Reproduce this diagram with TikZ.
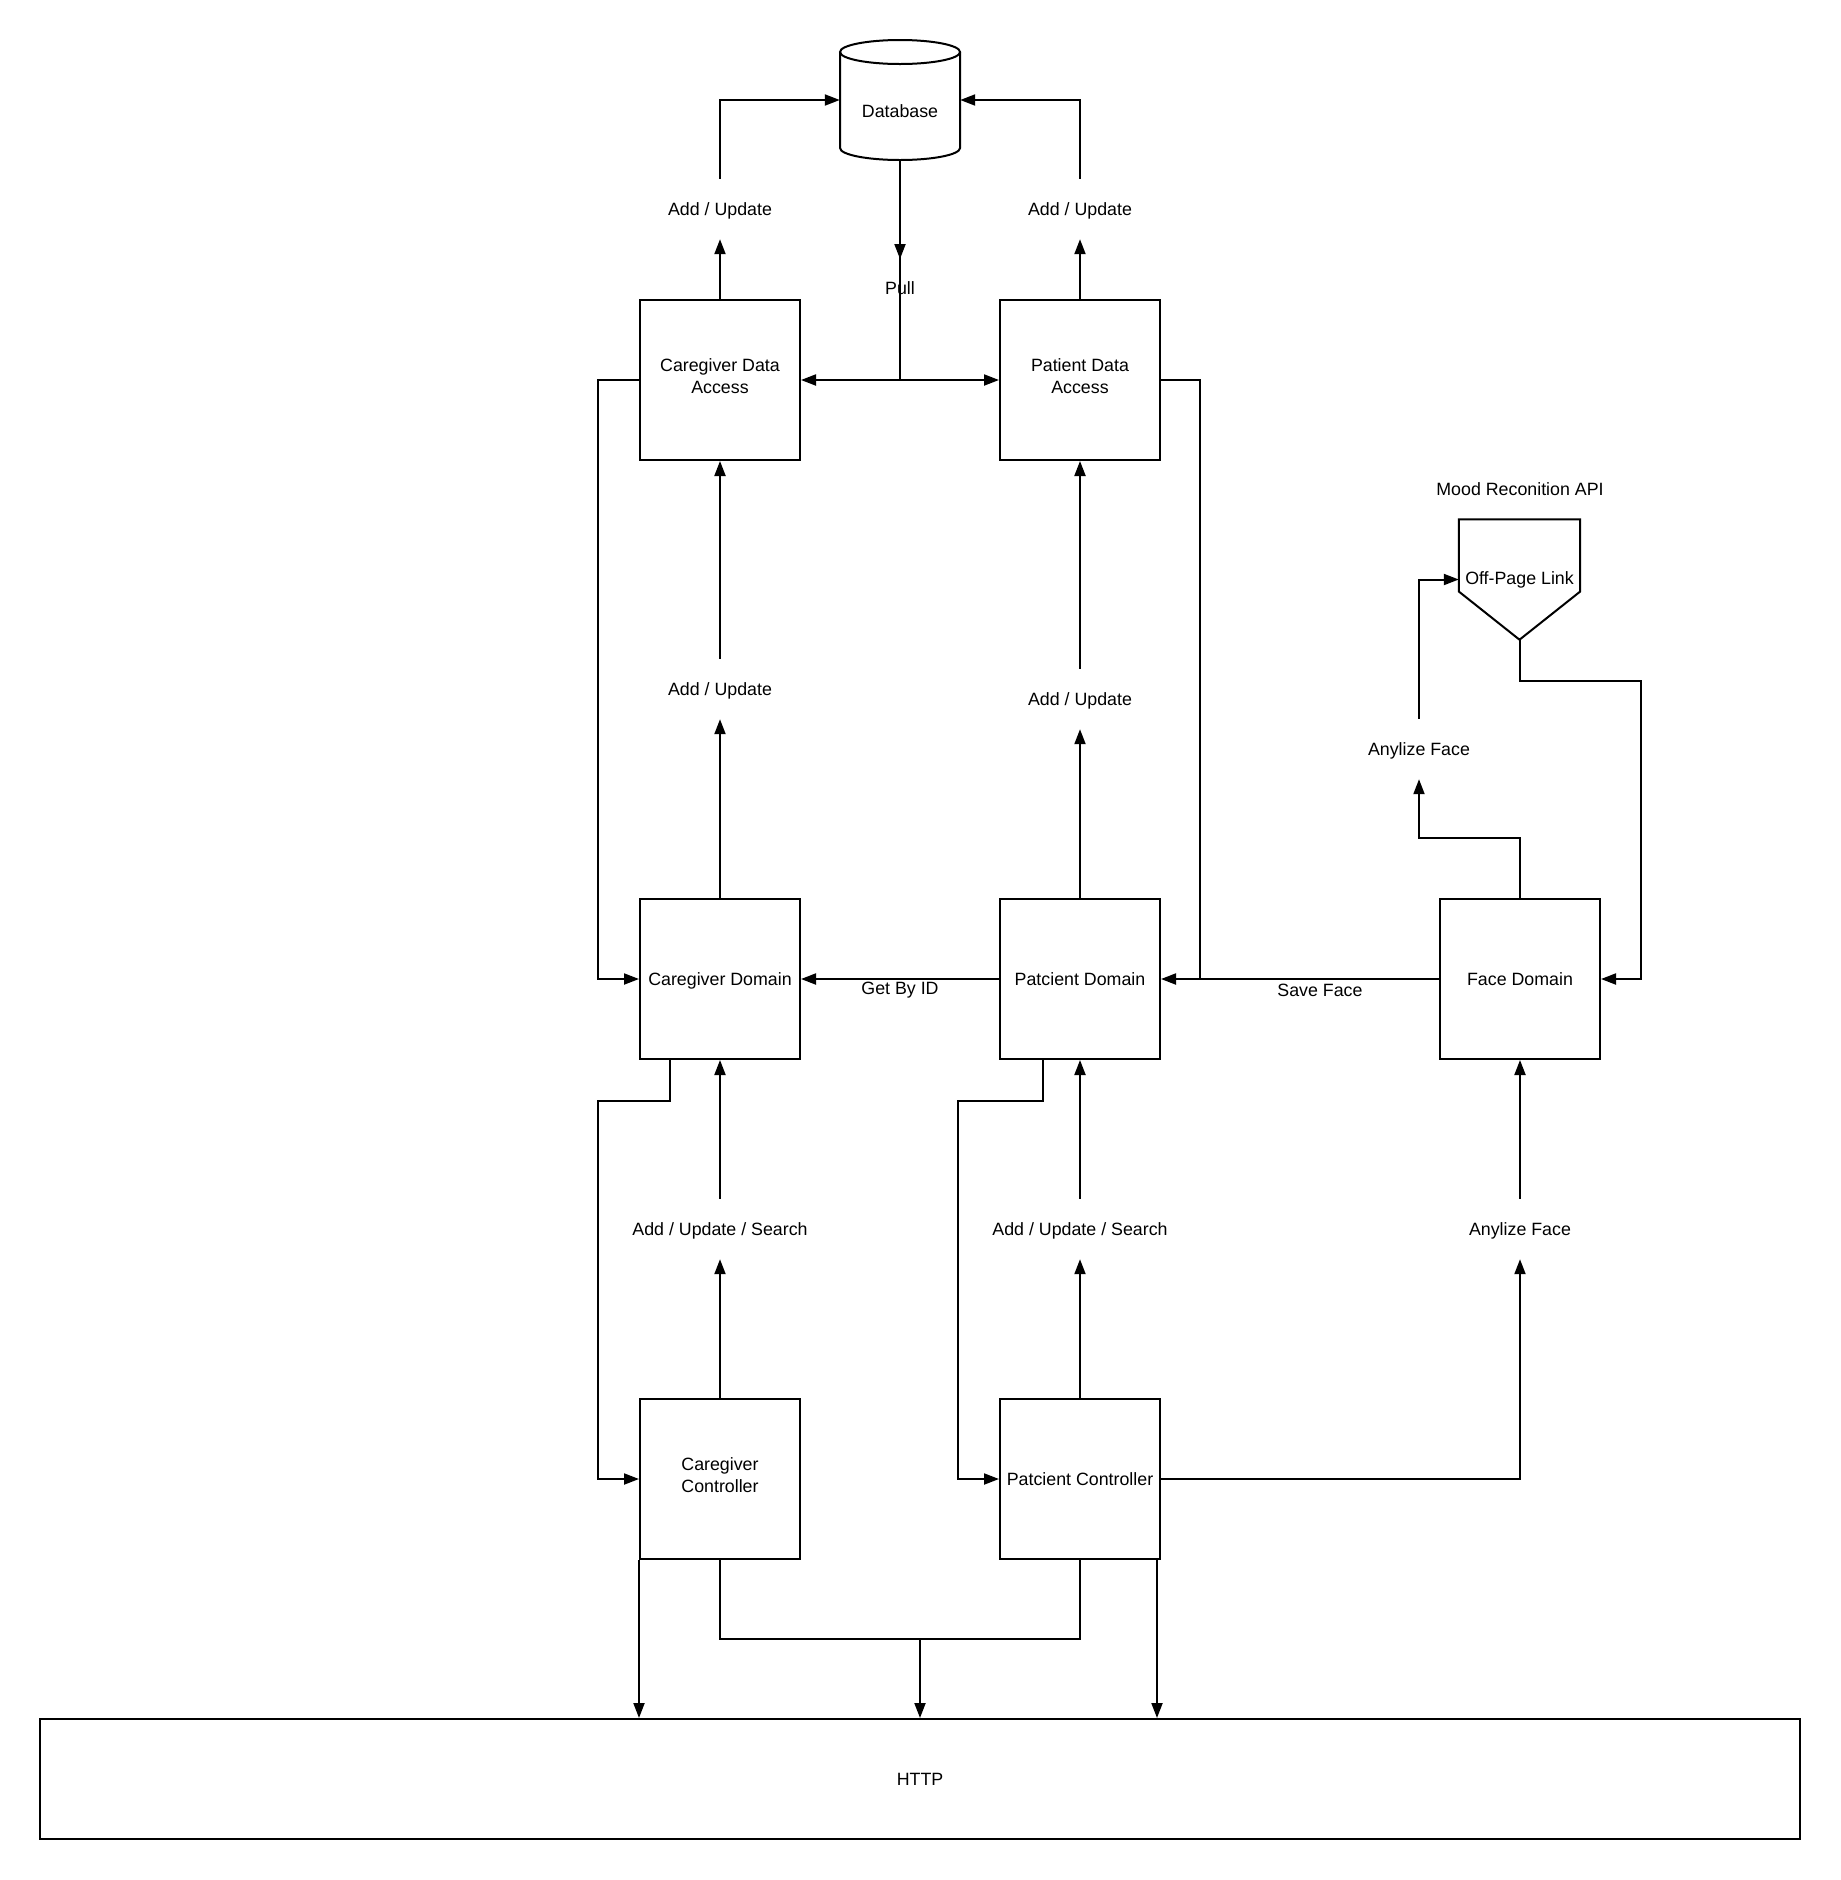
\documentclass[tikz,border=0pt]{standalone}
\usepackage{fontspec}
\setmainfont{Liberation Sans}
\usetikzlibrary{arrows.meta,calc}
\begin{document}
\begin{tikzpicture}[x=1pt,y=-1pt,
  every node/.style={font=\fontsize{17.8}{21.5}\selectfont},
  line/.style={line width=2pt},
  arr/.style={line width=2pt,-{Triangle[length=15pt,width=11pt]}},
  box/.style={draw,line width=2pt,minimum width=160pt,minimum height=160pt,inner sep=0pt,align=center,text height=17pt,text depth=4pt},
  lbl/.style={inner sep=0pt,minimum height=60pt,align=center,text height=17pt,text depth=4pt},
  txt/.style={inner sep=0pt,align=center}]
\useasboundingbox (0,0) rectangle (1840,1880);

% database
\node[inner sep=0pt,minimum width=120pt,minimum height=120pt] (db) at (900,100) {};
\node[txt] (dbt) at (900,111) {Database};
\draw[line] (840,52) -- (840,148) arc[start angle=180,end angle=360,x radius=60,y radius=-12] -- (960,52);
\draw[line] (900,52) ellipse[x radius=60,y radius=12];

% boxes
\node[box] (cda) at (720,380) {};
\node[txt,yshift=4pt] (cdat) at (cda) {Caregiver Data\\Access};
\node[box] (pda) at (1080,380) {};
\node[txt,yshift=4pt] (pdat) at (pda) {Patient Data\\Access};
\node[box] (cd) at (720,979) {Caregiver Domain};
\node[box] (pd) at (1080,979) {Patcient Domain};
\node[box] (fd) at (1520,979) {Face Domain};
\node[box] (cc) at (720,1479) {};
\node[txt,yshift=4pt] (cct) at (cc) {Caregiver\\Controller};
\node[box] (pc) at (1080,1479) {Patcient Controller};
\node[draw,line width=2pt,minimum width=1760pt,minimum height=120pt,inner sep=0pt] (http) at (920,1779) {HTTP};

% off-page link
\node[inner sep=0pt,minimum width=121pt,minimum height=120pt] (opl) at (1519.5,579.5) {Off-Page Link};
\draw[line] (opl.north west) -- (opl.north east) -- ($(opl.east)+(0,12)$) -- (opl.south) -- ($(opl.west)+(0,12)$) -- cycle;
\node[txt] (api) at (1520,489) {Mood Reconition API};

% labels
\node[lbl] (l1) at (720,209) {Add / Update};
\node[lbl] (l2) at (1080,209) {Add / Update};
\node[lbl] (l3) at (720,689) {Add / Update};
\node[lbl] (l4) at (1080,699) {Add / Update};
\node[lbl] (l5) at (720,1229) {Add / Update / Search};
\node[lbl] (l6) at (1080,1229) {Add / Update / Search};
\node[lbl] (af2) at (1520,1229) {Anylize Face};
\node[lbl] (af1) at (1419,749) {Anylize Face};
\node[txt] (pull) at (900,288) {Pull};
\node[txt] (gbi) at (900,990) {Get By ID};
\node[txt] (sf) at (1320,990) {Save Face};

% top connectors
\draw[arr] (cda.north) -- (l1.south);
\draw[arr] (l1.north) |- (db.west);
\draw[arr] (pda.north) -- (l2.south);
\draw[arr] (l2.north) |- (db.east);
\coordinate (pj) at (900,380);
\draw[line] (db.south) -- (pj);
\draw[arr] (db.south) -- (900,259);
\draw[arr] (pj) -- (cda.east);
\draw[arr] (pj) -- (pda.west);

% data access loops
\draw[arr] (cda.west) -- ++(-41,0) |- (cd.west);
\coordinate (sj) at (1200,979);
\draw[line] (pda.east) -| (sj);

% domain to data access
\draw[arr] (cd.north) -- (l3.south);
\draw[arr] (l3.north) -- (cda.south);
\draw[arr] (pd.north) -- (l4.south);
\draw[arr] (l4.north) -- (pda.south);

% domain row
\draw[arr] (pd.west) -- (cd.east);
\draw[arr] (fd.west) -- (pd.east);

% face domain / API
\draw[arr] (fd.north) -- ++(0,-60) -| (af1.south);
\draw[arr] (af1.north) |- (opl.west);
\coordinate (oc) at (1641,681);
\draw[arr] (opl.south) |- (oc) |- (fd.east);

% controllers to domains
\draw[arr] (cc.north) -- (l5.south);
\draw[arr] (l5.north) -- (cd.south);
\draw[arr] (pc.north) -- (l6.south);
\draw[arr] (l6.north) -- (pd.south);
\draw[arr] (pc.east) -| (af2.south);
\draw[arr] (af2.north) -- (fd.south);

% domain bottom loops
\draw[arr] ($(cd.south west)+(31,0)$) -- ++(0,41) -- ++(-72,0) |- (cc.west);
\draw[arr] ($(pd.south west)+(44,0)$) -- ++(0,41) -- ++(-85,0) |- (pc.west);

% to HTTP
\coordinate (bj) at (920,1639);
\draw[line] (cc.south) |- (bj) -| (pc.south);
\draw[arr] (bj) -- (bj |- http.north);
\draw[arr] (cc.south west) -- (cc.south west |- http.north);
\coordinate (pr) at ($(pc.south east)+(-4,0)$);
\draw[arr] (pr) -- (pr |- http.north);
\end{tikzpicture}
\end{document}
